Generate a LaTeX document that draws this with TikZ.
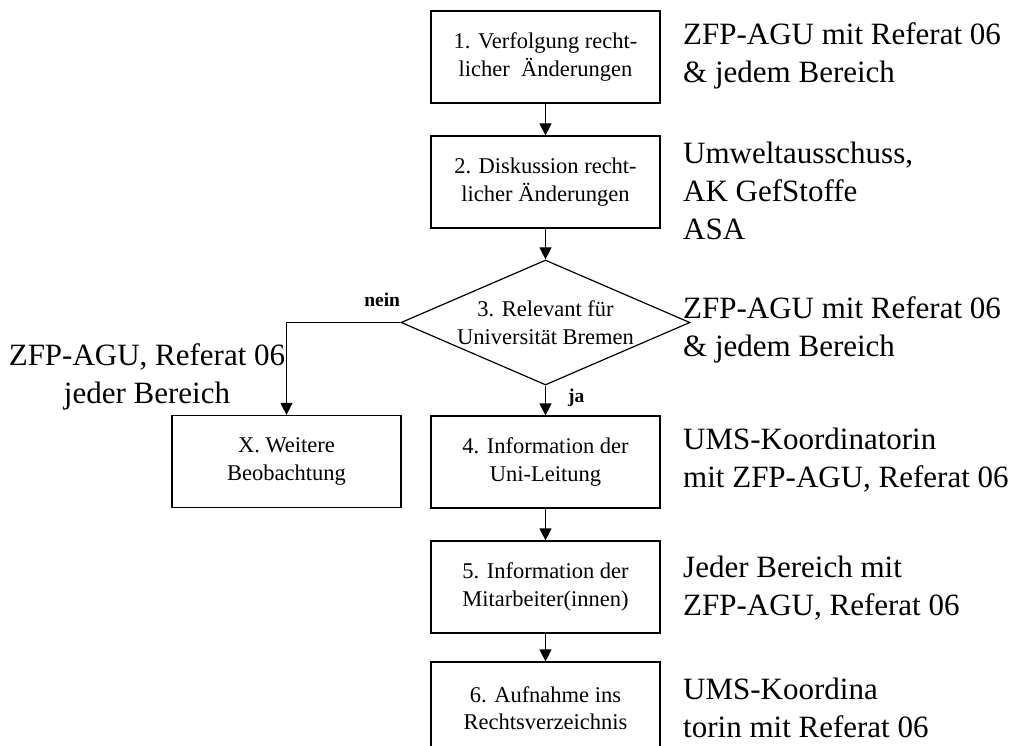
\documentclass[tikz,border=0pt]{standalone}
\usepackage{fontspec}
\setmainfont{Liberation Serif}
\usetikzlibrary{shapes.geometric,arrows.meta}

\begin{document}
\begin{tikzpicture}[x=1pt, y=-1pt,
  box/.style={draw, line width=1.2pt, minimum width=229pt, minimum height=92pt,
    inner sep=0pt, align=center, font=\fontsize{22.5}{27.5}\selectfont},
  decision/.style={diamond, draw, line width=1.2pt, aspect=2.3, inner sep=0pt,
    minimum width=289pt, minimum height=125pt, align=center,
    font=\fontsize{22.5}{27.5}\selectfont},
  who/.style={anchor=west, align=left, inner sep=0pt, font=\fontsize{31}{38}\selectfont},
  flow/.style={line width=1.2pt, -{Triangle[width=12pt,length=12pt]}},
  answer/.style={inner sep=0pt, font=\fontsize{19.5}{22}\selectfont\bfseries}]

  \useasboundingbox (0, 0) rectangle (1010, 746);

  % process steps
  \node (b1) at (545.5, 57) [box] {1. Verfolgung recht-\\licher\ \ Änderungen};
  \node (b2) at (545.5, 182) [box] {2. Diskussion recht-\\licher Änderungen};
  \node (d3) at (545.5, 322.5) [decision] {3. Relevant für\\Universität Bremen};
  \node (b4) at (545.5, 462) [box] {4. Information der\\Uni-Leitung};
  \node (b5) at (545.5, 587) [box] {5. Information der\\Mitarbeiter(innen)};
  \node (b6) at (545.5, 708) [box] {6. Aufnahme ins\\Rechtsverzeichnis};
  \node (bx) at (286.5, 461.5) [box] {X. Weitere\\Beobachtung};

  % flow
  \draw[flow] (b1) -- (b2);
  \draw[flow] (b2) -- (d3);
  \draw[flow] (d3.west) -| node[pos=0.08, above=15pt, answer] {nein} (bx.north);
  \draw[flow] (d3.south) -- node[pos=0.42, right=22pt, answer] {ja} (b4.north);
  \draw[flow] (b4) -- (b5);
  \draw[flow] (b5) -- (b6);

  % who is responsible
  \node (w1) at (683, 56) [who] {ZFP-AGU mit Referat 06\\\& jedem Bereich};
  \node (w2) at (683, 191) [who] {Umweltausschuss,\\AK GefStoffe\\ASA};
  \node (w3) at (683, 330) [who] {ZFP-AGU mit Referat 06\\\& jedem Bereich};
  \node (w4) at (683, 460) [who] {UMS-Koordinatorin\\mit ZFP-AGU, Referat 06};
  \node (w5) at (683, 588) [who] {Jeder Bereich mit\\ZFP-AGU, Referat 06};
  \node (w6) at (683, 708) [who] {UMS-Koordina\\torin mit Referat 06};
  \node (wx) at (147, 377) [who, anchor=center, align=center] {ZFP-AGU, Referat 06\\jeder Bereich};

\end{tikzpicture}
\end{document}
